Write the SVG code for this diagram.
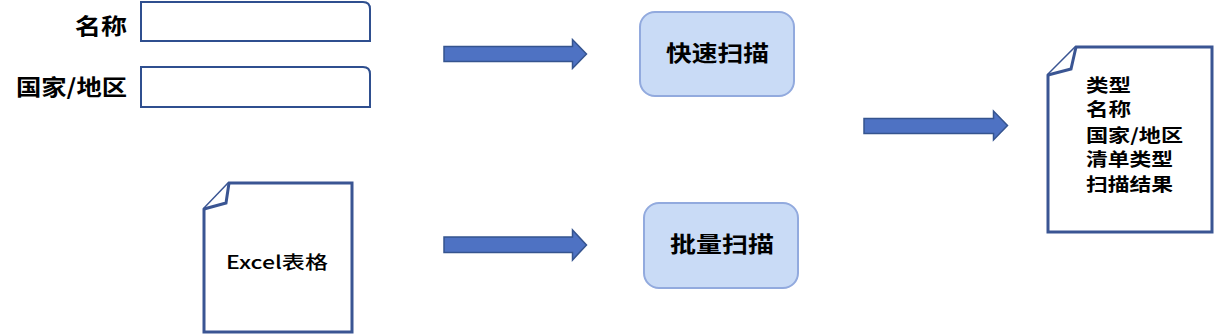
<svg xmlns="http://www.w3.org/2000/svg" width="1214" height="335" viewBox="0 0 1214 335">
<style>
.lbl{font-family:"Noto Sans CJK SC","Liberation Sans",sans-serif;font-weight:bold;fill:#000;}
.big{font-size:22px;}
.mid{font-size:18px;}
.input{fill:#fff;stroke:#2f4f8f;stroke-width:2;}
.doc{fill:#fff;stroke:#3a5593;stroke-width:3;stroke-linejoin:miter;}
.proc{fill:#c9dbf6;stroke:#92aade;stroke-width:2;}
.arrow{fill:#4e72c3;stroke:#35548f;stroke-width:1.5;}
</style>
<rect width="1214" height="335" fill="#fff"/>
<g id="name-field">
<text class="lbl big" x="75" y="34" textLength="52" lengthAdjust="spacingAndGlyphs">名称</text>
<path class="input" d="M141 2 H363 Q370 2 370 9 V41 H141 Z"/>
</g>
<g id="country-field">
<text class="lbl big" x="16" y="95" textLength="111" lengthAdjust="spacingAndGlyphs">国家/地区</text>
<path class="input" d="M141 67 H363 Q370 67 370 74 V107 H141 Z"/>
</g>
<g id="excel">
<path class="doc" d="M229 183 H352 V332 H204 V209 Z"/>
<path class="doc" d="M229 183 L226 203 L204 209"/>
<text class="lbl mid" x="226" y="269" textLength="102" lengthAdjust="spacingAndGlyphs" style="font-weight:500">Excel表格</text>
</g>
<g id="quick-scan">
<rect class="proc" x="640" y="12" width="154" height="84" rx="15"/>
<text class="lbl big" x="666" y="61" textLength="103" lengthAdjust="spacingAndGlyphs">快速扫描</text>
</g>
<g id="batch-scan">
<rect class="proc" x="644" y="203" width="154" height="85" rx="15"/>
<text class="lbl big" x="670" y="252" textLength="104" lengthAdjust="spacingAndGlyphs">批量扫描</text>
</g>
<g id="result">
<path class="doc" d="M1076 47 H1212 V232 H1048 V75 Z"/>
<path class="doc" d="M1076 47 L1071 69 L1048 75"/>
<text class="lbl mid" x="1086" y="92" textLength="45" lengthAdjust="spacingAndGlyphs">类型</text>
<text class="lbl mid" x="1086" y="116" textLength="45" lengthAdjust="spacingAndGlyphs">名称</text>
<text class="lbl mid" x="1086" y="142" textLength="97" lengthAdjust="spacingAndGlyphs">国家/地区</text>
<text class="lbl mid" x="1086" y="166" textLength="87" lengthAdjust="spacingAndGlyphs">清单类型</text>
<text class="lbl mid" x="1086" y="191" textLength="87" lengthAdjust="spacingAndGlyphs">扫描结果</text>
</g>
<g id="connectors">
<path class="arrow" d="M444 46.5 H572.5 V39.5 L586.5 54 L572.5 68.5 V61.5 H444 Z"/>
<path class="arrow" d="M444 237 H572.5 V230 L586.5 245 L572.5 260 V252.5 H444 Z"/>
<path class="arrow" d="M864 118.5 H993.5 V111 L1007.5 125.5 L993.5 140 V133.5 H864 Z"/>
</g>
</svg>
